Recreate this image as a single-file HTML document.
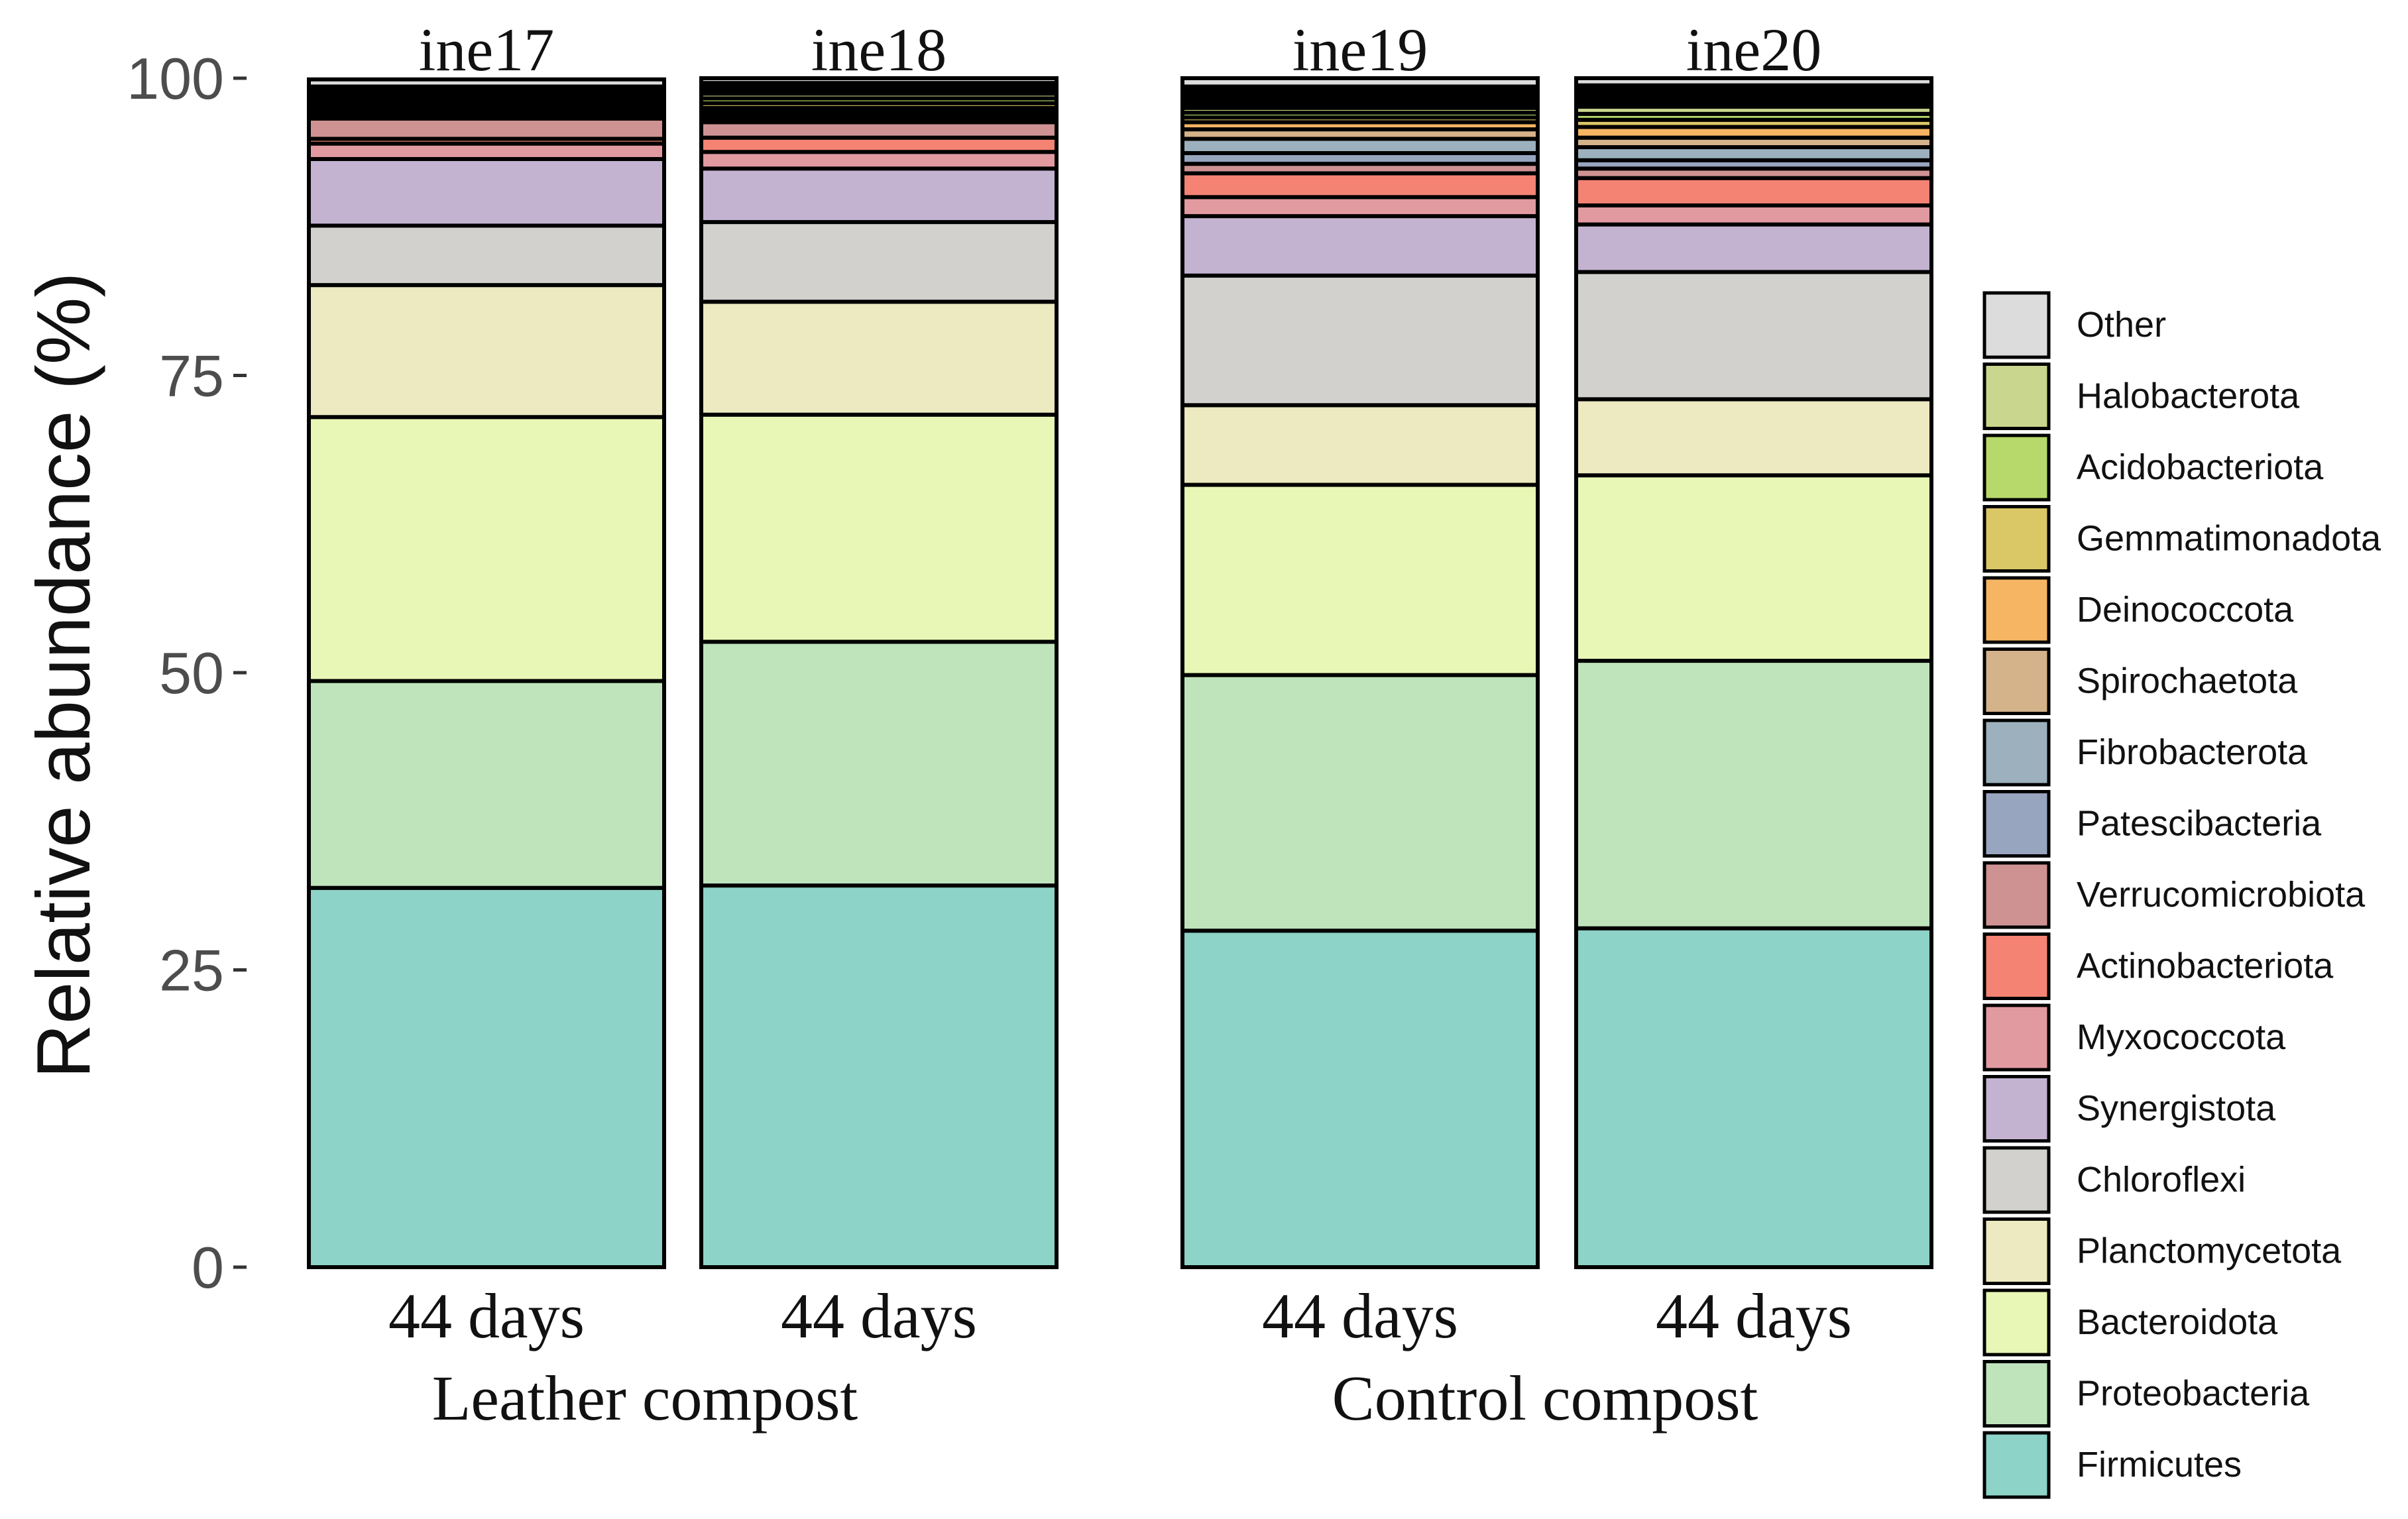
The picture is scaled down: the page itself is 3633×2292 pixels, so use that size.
<!DOCTYPE html>
<html><head><meta charset="utf-8">
<style>
html,body{margin:0;padding:0;background:#fff;}
svg{display:block;}
.serif{font-family:"Liberation Serif",serif;fill:#111;}
.sans{font-family:"Liberation Sans",sans-serif;}
</style></head>
<body>
<svg id="chart" width="3633" height="2292" viewBox="0 0 3633 2292" xmlns="http://www.w3.org/2000/svg">
<g id="bars"></g>
<g id="axis"></g>
<g id="legend"></g>
<text class="sans" font-size="114" fill="#111" text-anchor="middle" transform="translate(135,1019) rotate(-90)">Relative abundance (%)</text>
<text class="serif" font-size="96" text-anchor="middle" x="973" y="2142">Leather compost</text>
<text class="serif" font-size="96" text-anchor="middle" x="2331" y="2142">Control compost</text>
</svg>
<script>
const samples = ["ine17","ine18","ine19","ine20"];
const xLabels = ["44 days","44 days","44 days","44 days"];
const phyla = ["Firmicutes","Proteobacteria","Bacteroidota","Planctomycetota","Chloroflexi","Synergistota","Myxococcota","Actinobacteriota","Verrucomicrobiota","Patescibacteria","Fibrobacterota","Spirochaetota","Deinococcota","Gemmatimonadota","Acidobacteriota","Halobacterota","Other"];
const colors = ["#8dd3c7","#bfe4bc","#e9f7b6","#ede9c0","#d2d1cd","#c3b3d1","#e29aa1","#f58373","#cf9292","#98a5bf","#9cb1bd","#d4b28a","#f6b562","#dac766","#b7d96b","#c9d68e","#dcdcdc"];
const ine17 = [31.9,17.4,22.2,11.1,5.0,5.6,1.3,0.4,1.7,0.3,0.3,0.3,0.3,0.2,0.2,0.2,0.6];
const ine18 = [32.1,20.5,19.1,9.5,6.7,4.5,1.4,1.2,1.3,0.3,0.3,0.3,0.3,0.4,0.4,0.4,0.4];
const ine19 = [28.3,21.5,16.0,6.7,10.9,5.0,1.6,2.0,0.8,0.9,1.2,0.8,0.6,0.4,0.4,0.4,0.7];
const ine20 = [28.5,22.5,15.6,6.4,10.7,4.0,1.6,2.3,0.8,0.7,1.1,0.8,0.9,0.6,0.5,0.6,0.6];
const minorTaxaCount = [3,3,6,6];
const minorTaxaValue = [0.3,0.3,0.3,0.3];
const series = [ine17, ine18, ine19, ine20];
const yTicks = [0,25,50,75,100];

const NS = "http://www.w3.org/2000/svg";
const Y0 = 1912, Y100 = 118;
function yScale(v){ return Y0 - (Y0 - Y100) * v / 100; }
const barLeft = [466, 1058, 1784, 2378];
const barW = 536;
function mk(tag, attrs, parent){ const e = document.createElementNS(NS, tag); for (const k in attrs) e.setAttribute(k, attrs[k]); parent.appendChild(e); return e; }

const gb = document.getElementById("bars");
series.forEach((vals, i) => {
  let cum = 0;
  const x = barLeft[i];
  const addSeg = (v, fill, name) => {
    const yTop = yScale(cum + v), yBot = yScale(cum);
    const r = mk("rect", {x: x, y: yTop, width: barW, height: Math.max(0, yBot - yTop), fill: fill, stroke: "#000", "stroke-width": 6}, gb);
    
    
    cum += v;
  };
  vals.forEach((v, j) => {
    if (j === vals.length - 1) {
      for (let m = 0; m < minorTaxaCount[i]; m++) addSeg(minorTaxaValue[i], "#3a3a22", 'bar-' + samples[i] + '-minor-taxon');
    }
    addSeg(v, colors[j], 'bar-' + samples[i] + '-' + phyla[j].toLowerCase());
  });
  const t = mk("text", {x: x + barW/2, y: 106, "text-anchor": "middle", "font-size": 92, class: "serif"}, gb);
  t.textContent = samples[i];
  
  
  const xl = mk("text", {x: x + barW/2, y: 2018, "text-anchor": "middle", "font-size": 96, class: "serif"}, gb);
  xl.textContent = xLabels[i];
  
  
});

const ga = document.getElementById("axis");
yTicks.forEach(v => {
  const y = yScale(v);
  const l = mk("line", {x1: 352, x2: 372, y1: y, y2: y, stroke: "#333", "stroke-width": 5}, ga);
  
  
  const t = mk("text", {x: 338, y: y + 31, "text-anchor": "end", "font-size": 88, fill: "#4d4d4d", class: "sans"}, ga);
  t.textContent = v;
  
  
});

const gl = document.getElementById("legend");
const order = phyla.slice().reverse();
const ocol = colors.slice().reverse();
order.forEach((name, k) => {
  const y = 442 + k * 107.5;
  const r = mk("rect", {x: 2994, y: y, width: 97, height: 97, fill: ocol[k], stroke: "#000", "stroke-width": 5}, gl);
  
  
  const t = mk("text", {x: 3133, y: y + 66, "font-size": 54, fill: "#111", class: "sans"}, gl);
  t.textContent = name;
  
  
});
</script>
</body></html>
